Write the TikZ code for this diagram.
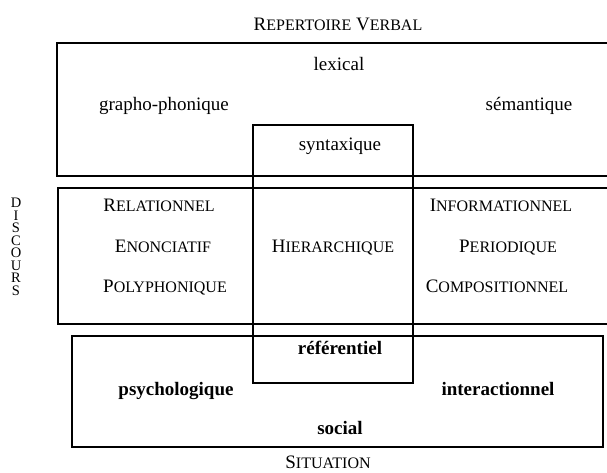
\documentclass[tikz,border=0pt]{standalone}
\usepackage{fontspec}
\setmainfont{Liberation Serif}
% capital initial followed by reduced capitals
\newcommand\capsmall[2]{#1{\fontsize{16}{18}\selectfont #2}}
\begin{document}
\begin{tikzpicture}[x=1pt,y=-1pt,
  frame/.style={line width=1.5pt, line join=miter},
  lbl/.style={inner sep=0pt, anchor=base, font=\fontsize{19}{22}\selectfont},
  blbl/.style={lbl, font=\fontsize{19}{22}\selectfont\bfseries},
  vletter/.style={inner sep=0pt, anchor=base, text height=9.5pt, text depth=0pt,
    font=\fontsize{14.5}{15}\selectfont}]
\useasboundingbox (0,0) rectangle (607,472);

% verbal repertoire (open on the right)
\draw[frame] (607,43) -- (57,43) -- (57,176) -- (607,176);
% discourse band (open on the right)
\draw[frame] (607,188) -- (58,188) -- (58,324) -- (607,324);
% situation
\draw[frame] (72,336) rectangle (603,447);
% central column crossing the three levels
\draw[frame] (253,125) rectangle (413,383);

% headings
\node[lbl] (rep) at (338,30) {\capsmall{R}{EPERTOIRE} \capsmall{V}{ERBAL}};
\node[lbl] (sit) at (328,468) {\capsmall{S}{ITUATION}};
% vertical heading, one letter per line
\foreach \ch [count=\k] in {D,I,S,C,O,U,R,S}
  \node[vletter] (disc\k) at (16,{207.5+12.5*(\k-1)}) {\ch};

% verbal level
\node[lbl] (lex) at (339,70) {lexical};
\node[lbl] (gra) at (164,110) {grapho-phonique};
\node[lbl] (sem) at (529,110) {sémantique};
\node[lbl] (syn) at (340,150) {syntaxique};

% discourse level
\node[lbl] (rel) at (159,211) {\capsmall{R}{ELATIONNEL}};
\node[lbl] (eno) at (163,252) {\capsmall{E}{NONCIATIF}};
\node[lbl] (pol) at (165,292) {\capsmall{P}{OLYPHONIQUE}};
\node[lbl] (hie) at (333,252) {\capsmall{H}{IERARCHIQUE}};
\node[lbl] (inf) at (501,211) {\capsmall{I}{NFORMATIONNEL}};
\node[lbl] (per) at (508,252) {\capsmall{P}{ERIODIQUE}};
\node[lbl] (com) at (497,292) {\capsmall{C}{OMPOSITIONNEL}};

% situation level
\node[blbl] (ref) at (340,354) {référentiel};
\node[blbl] (psy) at (176,395) {psychologique};
\node[blbl] (int) at (498,395) {interactionnel};
\node[blbl] (soc) at (340,434) {social};
\end{tikzpicture}
\end{document}
